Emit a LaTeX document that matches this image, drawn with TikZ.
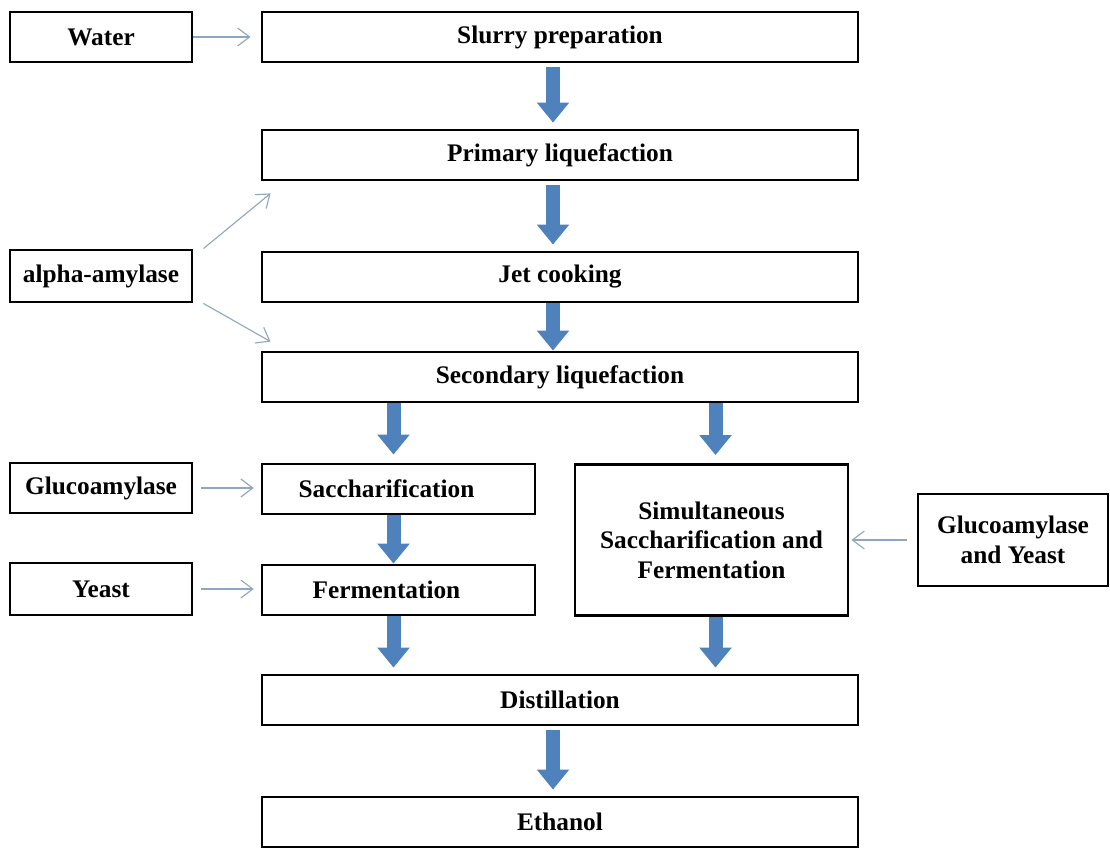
\documentclass[tikz,border=0pt]{standalone}
\usepackage{fontspec}
\setmainfont{Liberation Serif}
\usetikzlibrary{arrows.meta}
\definecolor{flowblue}{HTML}{4F81BD}
\definecolor{feedgray}{HTML}{8EA7BE}
\tikzset{
  procbox/.style={draw=black, line width=2pt, minimum width=14.9cm, minimum height=1.25cm,
    font=\fontsize{18}{21}\selectfont\bfseries, align=center, inner sep=0pt},
  inbox/.style={procbox, minimum width=4.55cm},
  halfbox/.style={procbox, minimum width=6.825cm},
  bigflow/.style={flowblue, line width=0.35cm, -{Triangle[width=0.78cm,length=0.5cm]},
    shorten <=0.1cm, shorten >=0.15cm},
  feed/.style={feedgray, line width=0.8pt, -{Straight Barb[length=0.3cm,width=0.45cm]}}
}
\begin{document}
\begin{tikzpicture}[x=0.025cm, y=-0.025cm]
    \useasboundingbox (0,0) rectangle (1110,848);
    \node[inbox] (water) at (101,37) {Water};
    \node[inbox, minimum height=1.3cm] (alpha) at (101,276) {alpha-amylase};
    \node[inbox] (gluco) at (101,488) {Glucoamylase};
    \node[inbox, minimum height=1.3cm] (yeast) at (101,589) {Yeast};
    \node[procbox] (slurry) at (560,37) {Slurry preparation};
    \node[procbox] (primary) at (560,155) {Primary liquefaction};
    \node[procbox] (jet) at (560,277) {Jet cooking};
    \node[procbox] (secondary) at (560,377) {Secondary liquefaction};
    \node[halfbox] (sacch) at (398.5,489) {\hspace*{-0.6cm}Saccharification};
    \node[halfbox] (ferm) at (398.5,590) {\hspace*{-0.6cm}Fermentation};
    \node[halfbox, minimum height=3.775cm] (ssf) at (711.5,540)
        {Simultaneous\\Saccharification and\\Fermentation};
    \node[procbox, minimum width=4.75cm, minimum height=2.3cm] (gy) at (1013,540)
        {Glucoamylase\\and Yeast};
    \node[procbox] (distill) at (560,700) {Distillation};
    \node[procbox] (ethanol) at (560,822) {Ethanol};

    \draw[bigflow] ([xshift=-0.175cm]slurry.south) -- ([xshift=-0.175cm]primary.north);
    \draw[bigflow] ([xshift=-0.175cm]primary.south) -- ([xshift=-0.175cm]jet.north);
    \draw[bigflow, shorten <=0pt, shorten >=0pt] ([xshift=-0.175cm]jet.south) -- ([xshift=-0.175cm]secondary.north);
    \draw[bigflow, shorten <=0pt, shorten >=0.2cm] ([xshift=-0.125cm]sacch.north |- secondary.south) -- ([xshift=-0.125cm]sacch.north);
    \draw[bigflow, shorten <=0pt, shorten >=0.2cm] ([xshift=0.1cm]ssf.north |- secondary.south) -- ([xshift=0.1cm]ssf.north);
    \draw[bigflow, shorten <=0pt, shorten >=0pt] ([xshift=-0.125cm]sacch.south) -- ([xshift=-0.125cm]ferm.north);
    \draw[bigflow, shorten <=0pt] ([xshift=-0.125cm]ferm.south) -- ([xshift=-0.125cm]ferm.south |- distill.north);
    \draw[bigflow, shorten <=0pt] ([xshift=0.1cm]ssf.south) -- ([xshift=0.1cm]ssf.south |- distill.north);
    \draw[bigflow] ([xshift=-0.175cm]distill.south) -- ([xshift=-0.175cm]ethanol.north);

    \draw[feed, shorten >=0.25cm] (water) -- (slurry);
    \draw[feed] ([xshift=0.25cm]alpha.north east) -- ([xshift=0.25cm,yshift=-0.3cm]primary.south west);
    \draw[feed] ([xshift=0.25cm]alpha.south east) -- ([xshift=0.25cm,yshift=0.225cm]secondary.north west);
    \draw[feed, shorten <=0.2cm, shorten >=0.17cm] (gluco) -- (gluco -| sacch.west);
    \draw[feed, shorten <=0.2cm, shorten >=0.17cm] (yeast) -- (yeast -| ferm.west);
    \draw[feed, shorten <=0.25cm, shorten >=0.05cm] (gy) -- (ssf);
\end{tikzpicture}
\end{document}
